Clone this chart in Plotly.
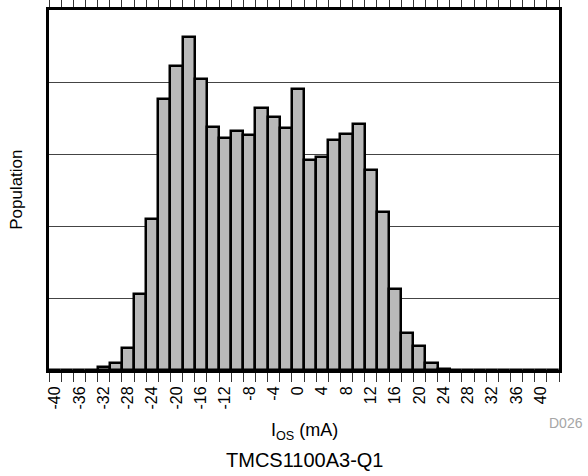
import plotly.graph_objects as go

# histogram bins (bin centres, mA) and counts
bin_centers = list(range(-40, 44, 2))
counts = [0, 0, 0, 0, 2, 5, 15, 53, 105, 188, 211, 231, 202, 169, 161, 166,
          163, 182, 176, 168, 195, 146, 148, 160, 164, 171, 139, 110, 56, 26,
          17, 5, 1, 0, 0, 0, 0, 0, 0, 0, 0, 0]
label_vals = list(range(-40, 44, 4))
label_text = [str(v) for v in label_vals]
bin_edges = list(range(-41, 45, 2))

font_family = "Arial, Liberation Sans, sans-serif"

fig = go.Figure()

fig.add_trace(go.Bar(
    x=bin_centers,
    y=counts,
    width=2,
    marker=dict(color="#b9b9b9", line=dict(color="black", width=2.5)),
    showlegend=False,
    hoverinfo="skip",
))

fig.update_layout(
    width=588,
    height=476,
    margin=dict(l=49, r=29, t=10, b=106),
    paper_bgcolor="white",
    plot_bgcolor="white",
    bargap=0,
    font=dict(family=font_family, color="black"),
    xaxis=dict(
        range=[-41, 43],
        automargin=False,
        tickmode="array",
        tickvals=label_vals,
        ticktext=label_text,
        tickangle=-90,
        ticks="outside",
        ticklen=7,
        tickcolor="rgba(0,0,0,0)",
        tickfont=dict(size=16),
        # bin edges get the visible ticks
        minor=dict(tickmode="array", tickvals=bin_edges, ticks="outside",
                   ticklen=9, tickwidth=1, tickcolor="#333333", showgrid=False),
        showgrid=False,
        zeroline=False,
        showline=True,
        linecolor="black",
        linewidth=3,
        mirror="ticks",
    ),
    yaxis=dict(
        range=[0, 250],
        automargin=False,
        dtick=50,
        showticklabels=False,
        ticks="",
        showgrid=True,
        gridcolor="#444444",
        gridwidth=1,
        zeroline=False,
        showline=True,
        linecolor="black",
        linewidth=3,
        mirror=True,
    ),
    annotations=[
        dict(text="Population", x=-0.065, y=0.5, xref="paper", yref="paper",
             xanchor="center", yanchor="middle",
             textangle=-90, showarrow=False, font=dict(size=17)),
        dict(text="I<sub>OS</sub> (mA)", x=0.5, y=-0.172, xref="paper", yref="paper",
             xanchor="center", yanchor="middle",
             showarrow=False, font=dict(size=18)),
        dict(text="TMCS1100A3-Q1", x=0.5, y=-0.25, xref="paper", yref="paper",
             xanchor="center", yanchor="middle",
             showarrow=False, font=dict(size=20)),
        dict(text="D026", x=1.051, y=-0.147, xref="paper", yref="paper",
             xanchor="right", yanchor="middle",
             showarrow=False, font=dict(size=14, color="#a6a6a6")),
    ],
)

fig.write_html("out.html", config={"displayModeBar": False},
               post_script="document.body.style.margin='0';")
